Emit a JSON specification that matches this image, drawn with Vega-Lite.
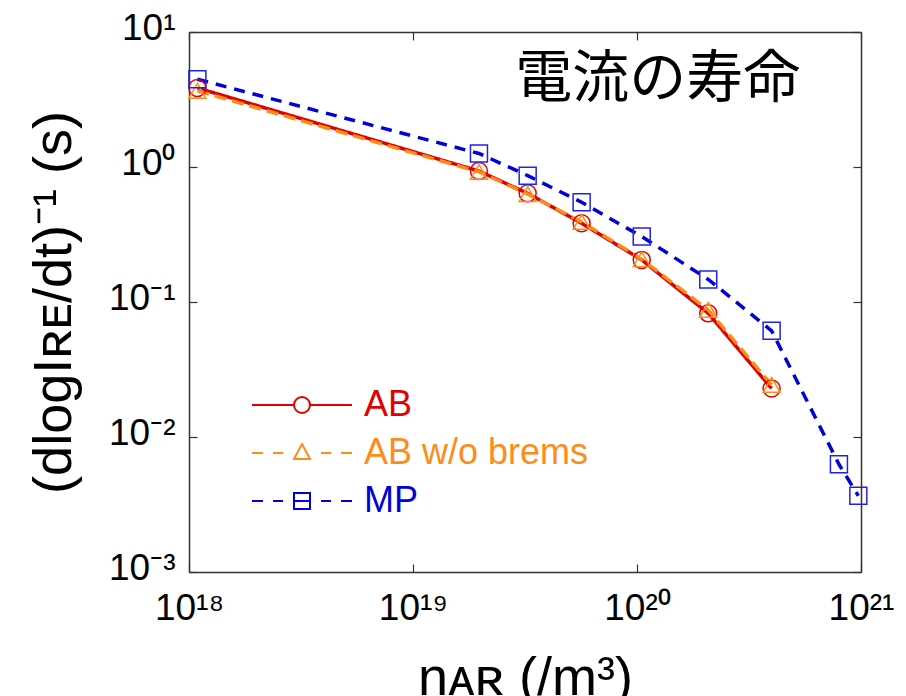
{
  "$schema": "https://vega.github.io/schema/vega-lite/v6.json",
  "width": 672,
  "height": 540,
  "autosize": "none",
  "padding": {"left": 189, "top": 32, "right": 45, "bottom": 124},
  "background": "white",
  "config": {"view": {"stroke": null}, "font": "Liberation Sans"},
  "data": {
    "values": [
      {"series": "AB", "n": 1.09e18, "tau": 3.85},
      {"series": "AB", "n": 1.97e19, "tau": 0.933},
      {"series": "AB", "n": 3.25e19, "tau": 0.638},
      {"series": "AB", "n": 5.66e19, "tau": 0.383},
      {"series": "AB", "n": 1.05e20, "tau": 0.205},
      {"series": "AB", "n": 2.08e20, "tau": 0.0824},
      {"series": "AB", "n": 3.99e20, "tau": 0.0229},
      {"series": "AB w/o brems", "n": 1.09e18, "tau": 3.67},
      {"series": "AB w/o brems", "n": 1.97e19, "tau": 0.92},
      {"series": "AB w/o brems", "n": 3.25e19, "tau": 0.63},
      {"series": "AB w/o brems", "n": 5.66e19, "tau": 0.392},
      {"series": "AB w/o brems", "n": 1.05e20, "tau": 0.207},
      {"series": "AB w/o brems", "n": 2.08e20, "tau": 0.0873},
      {"series": "AB w/o brems", "n": 3.99e20, "tau": 0.0243},
      {"series": "MP", "n": 1.09e18, "tau": 4.47},
      {"series": "MP", "n": 1.97e19, "tau": 1.26},
      {"series": "MP", "n": 3.25e19, "tau": 0.863},
      {"series": "MP", "n": 5.66e19, "tau": 0.548},
      {"series": "MP", "n": 1.05e20, "tau": 0.305},
      {"series": "MP", "n": 2.08e20, "tau": 0.147},
      {"series": "MP", "n": 3.99e20, "tau": 0.0612},
      {"series": "MP", "n": 7.97e20, "tau": 0.00628},
      {"series": "MP", "n": 9.73e20, "tau": 0.00367}
    ]
  },
  "layer": [
    {
      "mark": {"type": "line", "strokeWidth": 3.5},
      "encoding": {
        "x": {
          "field": "n", "type": "quantitative",
          "scale": {"type": "log", "domain": [1e18, 1e21], "nice": false},
          "axis": {
            "orient": "bottom", "values": [1e18, 1e19, 1e20, 1e21],
            "labelExpr": "datum.value < 5e18 ? '10¹⁸' : datum.value < 5e19 ? '10¹⁹' : datum.value < 5e20 ? '10²⁰' : '10²¹'",
            "labelFontSize": 37, "labelFont": "Liberation Sans", "labelColor": "black",
            "labelPadding": 26, "labelFlush": false, "labelOverlap": false, "labelBound": false,
            "tickSize": -8, "tickColor": "#333", "tickWidth": 1.2,
            "domainColor": "#333", "domainWidth": 1.5, "grid": false,
            "title": "nᴀʀ (/m³)", "titleFontSize": 54, "titleFont": "Liberation Sans",
            "titleFontWeight": "normal", "titleColor": "black", "titlePadding": 25
          }
        },
        "y": {
          "field": "tau", "type": "quantitative",
          "scale": {"type": "log", "domain": [0.001, 10], "nice": false},
          "axis": {
            "orient": "left", "values": [0.001, 0.01, 0.1, 1, 10],
            "labelExpr": "datum.value > 5 ? '10¹' : datum.value > 0.5 ? '10⁰' : datum.value > 0.05 ? '10⁻¹' : datum.value > 0.005 ? '10⁻²' : '10⁻³'",
            "labelFontSize": 37, "labelFont": "Liberation Sans", "labelColor": "black",
            "labelPadding": 22, "labelBaseline": "middle", "labelOffset": -4, "labelFlush": false, "labelOverlap": false, "labelBound": false,
            "tickSize": -8, "tickColor": "#333", "tickWidth": 1.2,
            "domainColor": "#333", "domainWidth": 1.5, "grid": false,
            "title": "(dlogIʀᴇ/dt)⁻¹ (s)", "titleFontSize": 54, "titleFont": "Liberation Sans",
            "titleFontWeight": "normal", "titleColor": "black", "titlePadding": 27
          }
        },
        "color": {
          "field": "series", "type": "nominal",
          "scale": {"domain": ["AB", "AB w/o brems", "MP"], "range": ["#e00000", "#ff8c1a", "#0000d8"]},
          "legend": null
        },
        "strokeDash": {
          "field": "series", "type": "nominal",
          "scale": {"domain": ["AB", "AB w/o brems", "MP"], "range": [[1, 0], [12, 6], [11, 8]]},
          "legend": null
        }
      }
    },
    {
      "mark": {"type": "point", "filled": false, "size": 289, "strokeWidth": 1.5, "opacity": 1},
      "encoding": {
        "x": {
          "field": "n", "type": "quantitative",
          "scale": {"type": "log", "domain": [1e18, 1e21], "nice": false},
          "axis": {
            "orient": "top", "values": [1e18, 1e19, 1e20, 1e21], "labels": false, "title": null,
            "tickSize": -8, "tickColor": "#333", "tickWidth": 1.2,
            "domainColor": "#333", "domainWidth": 1.5, "grid": false
          }
        },
        "y": {
          "field": "tau", "type": "quantitative",
          "scale": {"type": "log", "domain": [0.001, 10], "nice": false},
          "axis": {
            "orient": "right", "values": [0.001, 0.01, 0.1, 1, 10], "labels": false, "title": null,
            "tickSize": -8, "tickColor": "#333", "tickWidth": 1.2,
            "domainColor": "#333", "domainWidth": 1.5, "grid": false
          }
        },
        "stroke": {
          "field": "series", "type": "nominal",
          "scale": {"domain": ["AB", "AB w/o brems", "MP"], "range": ["#e00000", "#ff8c1a", "#2222e6"]},
          "legend": null
        },
        "shape": {
          "field": "series", "type": "nominal",
          "scale": {"domain": ["AB", "AB w/o brems", "MP"], "range": ["circle", "triangle-up", "square"]},
          "legend": null
        }
      }
    },
    {
      "transform": [{"filter": "false"}],
      "mark": {"type": "point", "filled": false, "opacity": 1, "strokeWidth": 2},
      "encoding": {
        "shape": {
          "field": "series", "type": "nominal",
          "scale": {
            "domain": ["AB", "AB w/o brems", "MP"],
            "range": [
              "M0,0H42M58,0H100M58,0A8,8,0,1,1,42,0A8,8,0,1,1,58,0",
              "M0,0H11M21,0H31M69,0H79M89,0H100M50,-9L58,6L42,6Z",
              "M0,0H11M21,0H31M69,0H79M89,0H100M42,-8H58V8H42ZM42,0H58"
            ]
          },
          "legend": {
            "title": null, "orient": "none", "legendX": 45, "legendY": 355,
            "labelFontSize": 36, "labelFont": "Liberation Sans", "labelOffset": 94, "labelLimit": 500,
            "symbolSize": 4, "symbolStrokeWidth": 2, "rowPadding": 12, "padding": 0,
            "symbolFillColor": "transparent",
            "symbolStrokeColor": {"expr": "datum.value == 'AB' ? '#e00000' : datum.value == 'MP' ? '#0000d8' : '#ff8c1a'"},
            "labelColor": {"expr": "datum.value == 'AB' ? '#e00000' : datum.value == 'MP' ? '#0000d8' : '#ff8c1a'"}
          }
        }
      }
    },
    {
      "data": {"values": [{"label": "電流の寿命"}]},
      "mark": {"type": "text", "font": "Noto Sans CJK JP", "fontSize": 57, "align": "right", "baseline": "middle", "color": "black"},
      "encoding": {
        "x": {"datum": 5.35e20, "type": "quantitative", "axis": null},
        "y": {"datum": 4.41, "type": "quantitative", "axis": null},
        "text": {"field": "label"}
      }
    }
  ],
  "resolve": {"axis": {"x": "independent", "y": "independent"}, "scale": {"shape": "independent"}}
}
